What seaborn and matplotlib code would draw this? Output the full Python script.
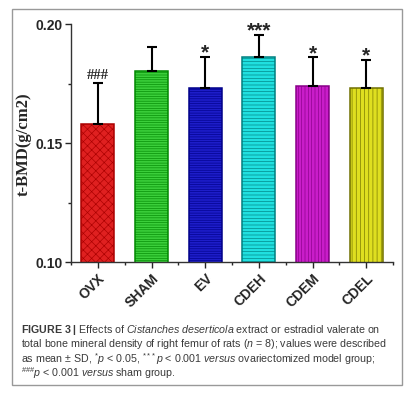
import pandas as pd
import seaborn as sns
import matplotlib.pyplot as plt
import matplotlib.patches as mpatches
from matplotlib.ticker import MultipleLocator, FixedLocator

groups = ["OVX", "SHAM", "EV", "CDEH", "CDEM", "CDEL"]
means = [0.158, 0.1803, 0.1731, 0.1861, 0.174, 0.173]
sds = [0.0172, 0.0100, 0.0130, 0.0093, 0.0120, 0.0120]
marks = ["###", "", "*", "***", "*", "*"]

face_colors = ["#ff0000", "#22e622", "#0000e6", "#00ffff", "#e600e6", "#ffff00"]
hatch_colors = ["#aa0000", "#008800", "#000088", "#008080", "#880088", "#707000"]
hatches = ["xxxx", "-------", "-------", "-----", "|||||", "||||"]

df = pd.DataFrame({"group": groups, "value": means})

sns.set_style("ticks")
plt.rcParams["hatch.linewidth"] = 0.45
plt.rcParams["mathtext.fontset"] = "custom"
plt.rcParams["mathtext.rm"] = "Liberation Sans"
plt.rcParams["mathtext.it"] = "Liberation Sans:italic"
plt.rcParams["mathtext.bf"] = "Liberation Sans:bold"
plt.rcParams["font.family"] = ["Liberation Sans", "DejaVu Sans"]

fig = plt.figure(figsize=(4.16, 4.02), dpi=100)
ax = fig.add_axes([71 / 416, 1 - 263 / 402, (393 - 71) / 416, (263 - 25) / 402])

sns.barplot(data=df, x="group", y="value", hue="group", palette=face_colors,
            order=groups, legend=False, errorbar=None, width=0.62, ax=ax)

for i, bar in enumerate(ax.patches):
    bar.set_hatch(hatches[i])
    bar.set_edgecolor(hatch_colors[i])
    bar.set_linewidth(1.1)

ax.errorbar(range(len(groups)), means, yerr=[[0] * len(groups), sds], fmt="none",
            ecolor="black", elinewidth=1.5, capsize=3.8, capthick=1.5, zorder=1)

for i, m in enumerate(marks):
    if not m:
        continue
    top = means[i] + sds[i]
    if m.startswith("#"):
        ax.text(i, top + 0.001, m, ha="center", va="bottom", fontsize=10.5,
                fontweight="bold", family="Liberation Serif")
    else:
        ax.text(i, top - 0.002, m, ha="center", va="bottom", fontsize=15,
                fontweight="bold")

ax.set_xlim(-0.5, 5.5)
ax.set_ylim(0.10, 0.20)
ax.set_yticks([0.10, 0.15, 0.20])
ax.set_yticklabels(["0.10", "0.15", "0.20"])
ax.yaxis.set_minor_locator(MultipleLocator(0.025))
ax.xaxis.set_minor_locator(FixedLocator([0.5 + k for k in range(-1, 6)]))
ax.tick_params(axis="both", which="major", length=4, width=1, labelsize=10, pad=2)
ax.tick_params(axis="both", which="minor", length=2.5, width=1)
for lab in ax.get_yticklabels():
    lab.set_fontweight("bold")
ax.set_xticks(range(len(groups)))
ax.set_xticklabels(groups, rotation=45, ha="right", rotation_mode="anchor",
                   fontweight="bold", fontsize=10)
ax.set_xlabel("")
ax.set_ylabel("t-BMD(g/cm2)", fontsize=12, fontweight="bold", family="Liberation Serif",
              labelpad=3)
for s in ["top", "right"]:
    ax.spines[s].set_visible(False)
for s in ["left", "bottom"]:
    ax.spines[s].set_linewidth(1)
    ax.spines[s].set_color("#333333")

frame = mpatches.Rectangle((12 / 416, 1 - 386 / 402), 390 / 416, 376 / 402,
                           transform=fig.transFigure, fill=False,
                           edgecolor="#999999", linewidth=1)
fig.add_artist(frame)

caption = [
    r"$\mathbf{FIGURE\ 3\ |}$ Effects of $\it{Cistanches\ deserticola}$ extract or estradiol valerate on",
    r"total bone mineral density of right femur of rats ($\it{n}$ = 8); values were described",
    r"as mean ± SD, $^{*}\it{p}$ < 0.05, $^{***}\it{p}$ < 0.001 $\it{versus}$ ovariectomized model group;",
    r"$^{\#\#\#}\it{p}$ < 0.001 $\it{versus}$ sham group.",
]
for k, line in enumerate(caption):
    fig.text(21 / 416, 1 - (330 + k * 14.5) / 402, line, fontsize=7.65, color="#3a3a3a",
             va="center", ha="left")

fig.savefig("out.png", dpi=100)
